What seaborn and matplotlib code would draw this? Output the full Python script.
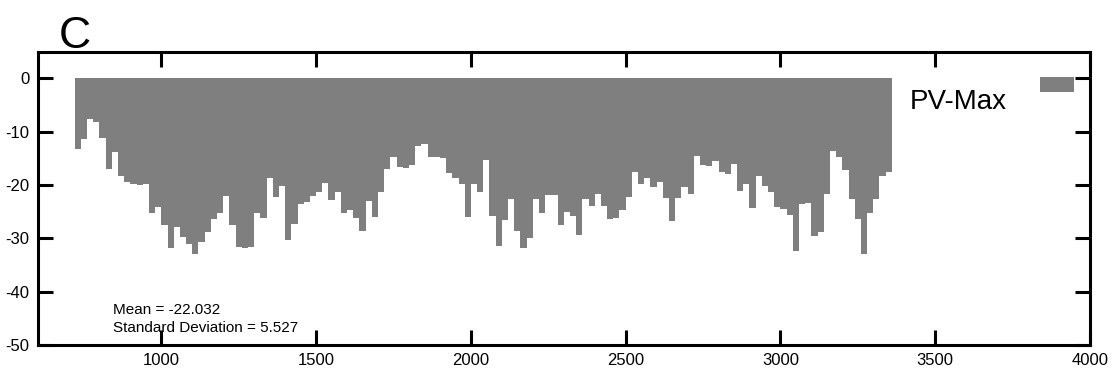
import numpy as np
import seaborn as sns
import matplotlib
matplotlib.use("Agg")
import matplotlib.pyplot as plt
from matplotlib.patches import Rectangle
from matplotlib.container import BarContainer
from matplotlib.legend_handler import HandlerPatch, update_from_first_child

# bin centres (20-wide bins from 720 to 3360)
positions = np.arange(730, 3370, 20)
pv_max = [
    -13.2, -11.3, -7.7, -8.2, -11.1, -17.0, -13.9, -18.4, -19.5, -19.9, -20.0,
    -19.8, -25.2, -24.1, -27.5, -31.9, -27.9, -29.7, -31.1, -32.9, -30.7, -28.8,
    -26.3, -25.2, -22.1, -27.5, -31.6, -31.9, -31.6, -25.2, -26.2, -18.7, -22.2,
    -20.1, -30.4, -27.4, -23.6, -23.1, -22.0, -21.3, -19.7, -22.8, -21.3, -25.2,
    -24.7, -26.2, -28.6, -23.0, -26.0, -21.3, -17.0, -14.7, -16.7, -16.9, -16.2,
    -12.6, -12.3, -14.7, -14.7, -15.0, -17.8, -18.7, -19.9, -26.0, -19.9, -21.3,
    -15.3, -25.8, -31.4, -26.6, -22.7, -28.7, -31.9, -29.9, -22.7, -25.2, -21.9,
    -21.9, -27.5, -25.0, -25.8, -29.4, -22.7, -24.0, -21.7, -24.0, -26.3, -26.1,
    -24.6, -22.2, -17.6, -19.9, -18.6, -20.3, -19.4, -22.4, -26.8, -22.4, -20.4,
    -21.6, -14.5, -16.3, -16.5, -15.5, -17.5, -18.0, -16.0, -21.1, -19.9, -24.4,
    -18.3, -20.2, -21.4, -24.1, -24.5, -25.7, -32.3, -23.5, -23.3, -29.6, -28.8,
    -21.6, -13.7, -14.8, -17.2, -22.7, -26.3, -32.9, -25.2, -22.6, -18.4, -17.5,
]
xticks = [1000, 1500, 2000, 2500, 3000, 3500, 4000]
yticks = [0, -10, -20, -30, -40, -50]
stats_text = "Mean = -22.032\nStandard Deviation = 5.527"
panel = "C"
series = "PV-Max"
gray = "#7f7f7f"

sns.set_style("ticks", {"axes.edgecolor": "black", "text.color": "black",
                        "xtick.color": "black", "ytick.color": "black",
                        "axes.labelcolor": "black"})
plt.rcParams["font.family"] = ["Liberation Sans Narrow", "Liberation Sans", "DejaVu Sans"]

fig = plt.figure(figsize=(11.17, 3.79), dpi=100)
ax = fig.add_axes([0.0336, 0.0897, 0.9422, 0.774])

sns.barplot(x=positions, y=pv_max, native_scale=True, width=1.0, color=gray,
            saturation=1, errorbar=None, linewidth=0, label=series, ax=ax)

ax.set_xlim(600, 4000)
ax.set_ylim(-50, 5)
ax.set_xticks(xticks)
ax.set_yticks(yticks)
ax.set_xticklabels([str(t) for t in xticks])
ax.set_yticklabels([str(t) for t in yticks])
ax.set_xlabel("")
ax.set_ylabel("")

for s in ax.spines.values():
    s.set_visible(True)
    s.set_linewidth(2.2)
ax.tick_params(direction="in", length=11, width=2.2, labelsize=12,
               top=True, right=True, pad=6)

ax.text(0.072, 0.034, stats_text, transform=ax.transAxes, fontsize=11,
        ha="left", va="bottom", linespacing=1.35)
fig.text(0.053, 1 - 48 / 379, panel, fontsize=32, ha="left", va="baseline")


# gnuplot-style key: sample box sits above the label's baseline
def raised_box(legend, orig_handle, xdescent, ydescent, width, height, fontsize):
    return Rectangle((-xdescent, 12), width, height)


key = HandlerPatch(patch_func=raised_box, update_func=update_from_first_child)
leg = ax.legend(loc="upper right", bbox_to_anchor=(0.998, 0.921), frameon=False,
                markerfirst=False, fontsize=20, handlelength=1.22,
                handleheight=0.47, handletextpad=1.2, borderpad=0,
                handler_map={BarContainer: key})

fig.savefig("out.png", dpi=100)
